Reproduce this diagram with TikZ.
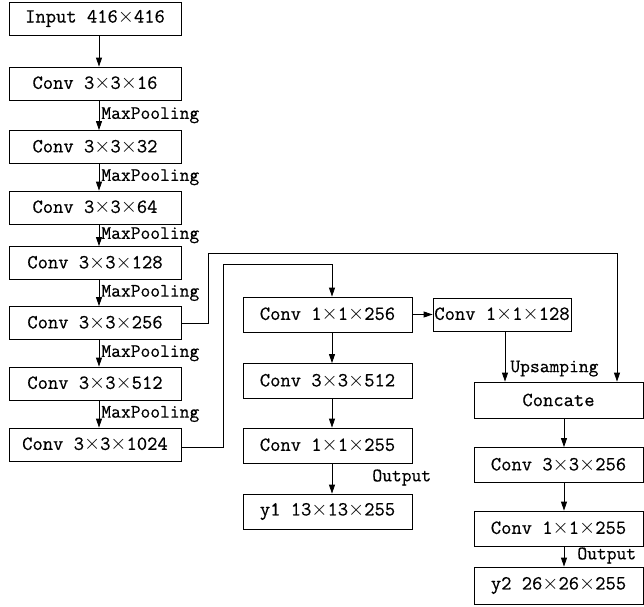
\documentclass[tikz,border=0pt]{standalone}
\usepackage{fontspec}
\setmonofont{Latin Modern Mono}[FakeBold=0.5]
\usetikzlibrary{arrows.meta}

\tikzset{
  blk/.style={draw, line width=0.8pt, minimum width=172pt, minimum height=33pt, inner sep=0pt},
  mblk/.style={blk, minimum width=169pt, minimum height=35pt},
  arr/.style={-{Triangle[length=9pt,width=6pt]}, line width=0.8pt},
  lbl/.style={inner sep=2pt, font=\ttfamily\fontsize{19}{21}\selectfont}
}

\begin{document}
\begin{tikzpicture}[x=1pt,y=-1pt,font=\ttfamily\fontsize{20}{22}\selectfont]
	\useasboundingbox (0,0) rectangle (644,606);

	% backbone
	\node[blk] (in) at (95,18.5) {Input 416$\times$416};
	\node[blk] (c16) at (95,83.5) {Conv 3$\times$3$\times$16};
	\node[blk] (c32) at (95,147) {Conv 3$\times$3$\times$32};
	\node[blk] (c64) at (95,207.5) {Conv 3$\times$3$\times$64};
	\node[blk] (c128) at (95,263) {Conv 3$\times$3$\times$128};
	\node[blk] (c256) at (95,323) {Conv 3$\times$3$\times$256};
	\node[blk] (c512) at (95,383.5) {Conv 3$\times$3$\times$512};
	\node[blk] (c1024) at (95,444.5) {Conv 3$\times$3$\times$1024};

	\draw[arr] ([xshift=4]in.south) -- ([xshift=4]c16.north);
	\draw[arr] ([xshift=4]c16.south) -- node[right,lbl]{MaxPooling} ([xshift=4]c32.north);
	\draw[arr] ([xshift=4]c32.south) -- node[right,lbl]{MaxPooling} ([xshift=4]c64.north);
	\draw[arr] ([xshift=4]c64.south) -- node[right,lbl]{MaxPooling} ([xshift=4]c128.north);
	\draw[arr] ([xshift=4]c128.south) -- node[right,lbl]{MaxPooling} ([xshift=4]c256.north);
	\draw[arr] ([xshift=4]c256.south) -- node[right,lbl]{MaxPooling} ([xshift=4]c512.north);
	\draw[arr] ([xshift=4]c512.south) -- node[right,lbl]{MaxPooling} ([xshift=4]c1024.north);

	% first head
	\node[mblk] (h1a) at (327.5,314.5) {Conv 1$\times$1$\times$256};
	\node[mblk] (h1b) at (327.5,381) {Conv 3$\times$3$\times$512};
	\node[mblk] (h1c) at (327.5,445.5) {Conv 1$\times$1$\times$255};
	\node[mblk] (y1) at (327.5,511.5) {y1 13$\times$13$\times$255};

	\coordinate (k1) at (223,264);
	\draw[arr] (c1024.east |- 0,447) -| (k1) -| ([xshift=4.5]h1a.north);
	\draw[arr] ([xshift=4.5]h1a.south) -- ([xshift=4.5]h1b.north);
	\draw[arr] ([xshift=4.5]h1b.south) -- ([xshift=4.5]h1c.north);
	\draw[arr] ([xshift=4.5]h1c.south) -- node[right,lbl,xshift=38pt,yshift=1pt]{Output} ([xshift=4.5]y1.north);

	% second head
	\node[blk, minimum width=138pt] (up) at (502,314.5) {Conv 1$\times$1$\times$128};
	\node[mblk, minimum height=36pt] (cat) at (558.5,400) {Concate};
	\node[mblk] (h2a) at (558.5,465) {Conv 3$\times$3$\times$256};
	\node[mblk] (h2b) at (558.5,528.5) {Conv 1$\times$1$\times$255};
	\node[mblk, minimum height=37pt] (y2) at (558.5,585.5) {y2 26$\times$26$\times$255};

	\draw[arr] (h1a.east) -- (up.west);
	\draw[arr] ([xshift=3]up.south) -- node[pos=0.74,right,lbl,xshift=3pt]{Upsamping} ([xshift=3]up.south |- cat.north);
	\coordinate (k2) at (208,253);
	\draw[arr] (c256.east) -| (k2) -| ([xshift=58.5]cat.north);
	\draw[arr] ([xshift=5.5]cat.south) -- ([xshift=5.5]h2a.north);
	\draw[arr] ([xshift=5.5]h2a.south) -- ([xshift=5.5]h2b.north);
	\draw[arr] ([xshift=5.5]h2b.south) -- node[right,lbl,xshift=11pt,yshift=1pt]{Output} ([xshift=5.5]y2.north);
\end{tikzpicture}
\end{document}
